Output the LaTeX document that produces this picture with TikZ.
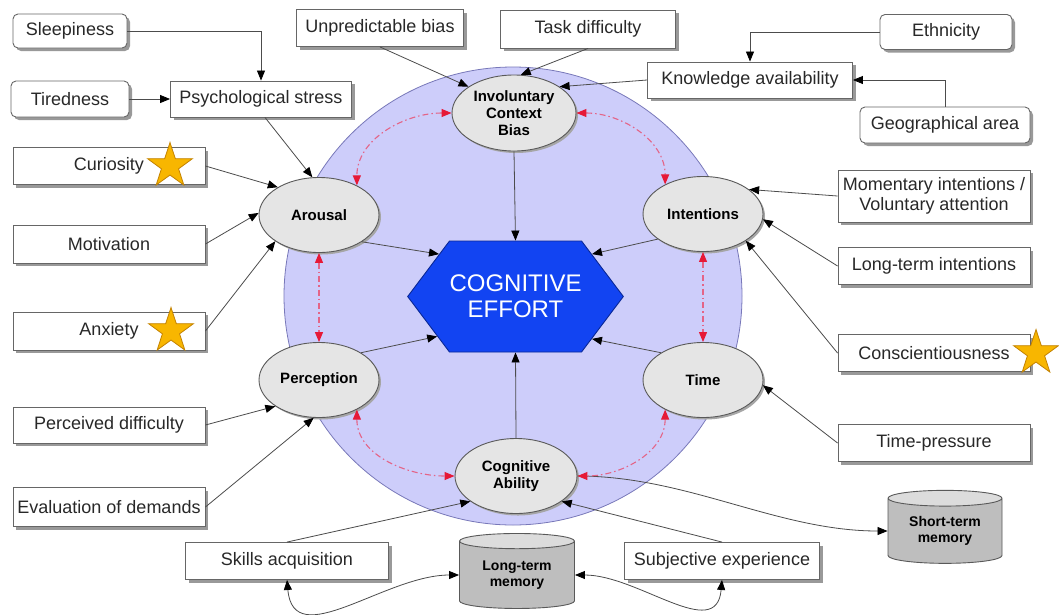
\documentclass[tikz,border=0pt]{standalone}
\usepackage{fontspec}
\setmainfont{Liberation Sans}
\usetikzlibrary{shapes.geometric,shapes.symbols,arrows.meta,shadows}
\definecolor{lav}{RGB}{205,205,250}
\definecolor{lavedge}{RGB}{120,120,185}
\definecolor{elfill}{RGB}{229,229,229}
\definecolor{hexblue}{RGB}{18,68,242}
\definecolor{hexedge}{RGB}{10,40,150}
\definecolor{redhead}{RGB}{230,25,55}
\definecolor{redline}{RGB}{228,100,135}
\definecolor{stargold}{RGB}{248,182,0}
\definecolor{staredge}{RGB}{195,130,0}
\definecolor{cylbody}{RGB}{190,190,190}
\definecolor{cyltop}{RGB}{220,220,220}
\definecolor{txt}{RGB}{40,40,40}
\tikzset{
  box/.style={rectangle, draw=black!60, line width=0.9pt, fill=white, inner sep=2pt, align=center,
    text=txt, font=\fontsize{18}{20}\selectfont,
    drop shadow={shadow xshift=3pt, shadow yshift=-3pt, fill=black!40, opacity=1}},
  rbox/.style={box, rounded corners=5pt},
  oval/.style={ellipse, draw=black!65, line width=0.9pt, fill=elfill, minimum width=120, minimum height=75,
    inner sep=0pt, align=center, font=\fontsize{15}{17}\selectfont\bfseries,
    drop shadow={shadow xshift=2pt, shadow yshift=-2pt, fill=black!35, opacity=1}},
  cyl/.style={cylinder, shape border rotate=90, aspect=0.22, draw=black!65, line width=0.9pt,
    cylinder uses custom fill, cylinder body fill=cylbody, cylinder end fill=cyltop,
    minimum width=114, minimum height=73, inner sep=0pt, align=center,
    font=\fontsize{14}{16}\selectfont\bfseries},
  conn/.style={draw=black!70, line width=0.8pt, -{Triangle[length=10pt,width=8pt,color=black]}},
  biconn/.style={draw=black!70, line width=0.8pt, {Triangle[length=10pt,width=8pt,color=black]}-{Triangle[length=10pt,width=8pt,color=black]}},
  redlink/.style={draw=redline, line width=1.1pt, dash pattern=on 6pt off 3pt on 1.5pt off 3pt,
    {Triangle[length=10pt,width=8pt,color=redhead]}-{Triangle[length=10pt,width=8pt,color=redhead]}},
  goldstar/.style={star, star points=5, star point ratio=2.6, minimum size=47, inner sep=0pt,
    fill=stargold, draw=staredge, line width=0.8pt},
}
\begin{document}
\begin{tikzpicture}[x=1pt,y=-1pt]
\useasboundingbox (0,0) rectangle (1059,614);
\fill[white] (0,0) rectangle (1059,614);

% background circle
\node[circle, minimum size=458, inner sep=0pt, fill=lav, draw=lavedge, line width=0.8pt] (bigcircle) at (513,296) {};

% central hexagon
\node[signal, signal to=west and east, signal pointer angle=106, minimum width=205, minimum height=111,
  inner sep=0pt, fill=hexblue, draw=hexedge, line width=0.9pt, text=white, align=center,
  font=\fontsize{24}{26}\selectfont] (effort) at (515.5,296.5) {COGNITIVE\\EFFORT};

% ellipses
\node[oval, minimum width=124, minimum height=76] (icb) at (514,113) {Involuntary\\Context\\Bias};
\node[oval] (arousal) at (319,215) {Arousal};
\node[oval] (intent) at (703,214) {Intentions};
\node[oval] (percep) at (319,380) {Perception};
\node[oval] (time) at (703,380) {Time};
\node[oval, minimum width=122] (ca) at (516,476) {Cognitive\\Ability};

% boxes
\node[rbox, minimum width=114, minimum height=34] (sleep) at (70,31) {Sleepiness};
\node[rbox, minimum width=118, minimum height=36] (tired) at (70,99) {Tiredness};
\node[box, minimum width=181, minimum height=36] (psych) at (261,99) {Psychological stress};
\node[box, minimum width=167, minimum height=37] (unpred) at (380,28) {Unpredictable bias};
\node[box, minimum width=175, minimum height=38] (task) at (588,29) {Task difficulty};
\node[rbox, minimum width=132, minimum height=35] (ethn) at (946,32) {Ethnicity};
\node[box, minimum width=205, minimum height=36] (ka) at (750,80) {Knowledge availability};
\node[rbox, minimum width=170, minimum height=36] (geo) at (945,125) {Geographical area};
\node[box, minimum width=192, minimum height=52, inner sep=0pt] (moment) at (934,196) {Momentary intentions /\\Voluntary attention};
\node[box, minimum width=192, minimum height=37] (lti) at (934,266) {Long-term intentions};
\node[box, minimum width=192, minimum height=37] (consc) at (934,353) {Conscientiousness};
\node[box, minimum width=192, minimum height=37] (tpress) at (934,443) {Time-pressure};
\node[box, minimum width=195, minimum height=37] (subj) at (722,561) {Subjective experience};
\node[box, minimum width=203, minimum height=37] (skills) at (287,561) {Skills acquisition};
\node[box, minimum width=192, minimum height=39] (evald) at (109,507) {Evaluation of demands};
\node[box, minimum width=192, minimum height=36] (percd) at (109,425) {Perceived difficulty};
\node[box, minimum width=192, minimum height=38] (anx) at (109,331) {Anxiety};
\node[box, minimum width=192, minimum height=38] (motiv) at (109,244) {Motivation};
\node[box, minimum width=192, minimum height=37] (curio) at (109,166) {Curiosity};

% cylinders
\node[cyl] (stm) at (945,531) {Short-term\\memory};
\node[cyl, minimum width=115, minimum height=75] (ltm) at (517,575) {Long-term\\memory};

% stars
\node[goldstar] (star1) at (170,166) {};
\node[goldstar] (star2) at (171,331) {};
\node[goldstar] (star3) at (1036,353) {};

% connectors into the hexagon
\draw[conn] (icb.south) -- (effort.north);
\draw[conn] (arousal.-32) -- (effort.151);
\draw[conn] (intent.-151) -- (effort.29);
\draw[conn] (percep.33) -- (effort.-153);
\draw[conn] (time.147) -- (effort.-29);
\draw[conn] (ca.north) -- (effort.south);

% upper left
\draw[conn] (sleep.east) -| (psych.north);
\draw[conn] (tired.east) -- (psych.west);
\path (psych.south) ++(4,0) coordinate (psychout);
\draw[conn] (psychout) -- (arousal.100);
\draw[conn] (unpred.south) -- (icb.150);
\draw[conn] (task.south) -- (icb.80);

% upper right
\draw[conn] (ethn.west) -| (ka.north);
\draw[conn] (geo.north) |- (ka.east);
\draw[conn] (ka.west) -- (icb.30);
\draw[conn] (moment.west) -- (intent.28);
\draw[conn] (lti.west) -- (intent.-5);
\draw[conn] (consc.west) -- (intent.-32);
\draw[conn] (tpress.west) -- (time.-5);

% left
\draw[conn] (curio.east) -- (arousal.146);
\draw[conn] (motiv.east) -- (arousal.178);
\draw[conn] (anx.east) -- (arousal.211);
\draw[conn] (percd.east) -- (percep.211);
\draw[conn] (evald.east) -- (percep.262);

% bottom
\draw[conn] (skills.north) -- (ca.209);
\draw[conn] (subj.north) -- (ca.-29);
\draw[conn] (ca.east) to[out=0, in=180, looseness=0.9] (stm.180);
\draw[biconn] (skills.south) to[out=-85, in=180, looseness=1.1] (ltm.180);
\draw[biconn] (ltm.0) to[out=0, in=-95, looseness=1.1] (subj.south);

% red dash-dot links
\draw[redlink] (icb.west) to[out=180, in=90] (arousal.38);
\draw[redlink] (icb.east) to[out=0, in=90] (intent.142);
\draw[redlink] (arousal.south) -- (percep.north);
\draw[redlink] (intent.south) -- (time.north);
\draw[redlink] (percep.-38) to[out=-90, in=180] (ca.west);
\draw[redlink] (time.-142) to[out=-90, in=0] (ca.east);
\end{tikzpicture}
\end{document}
